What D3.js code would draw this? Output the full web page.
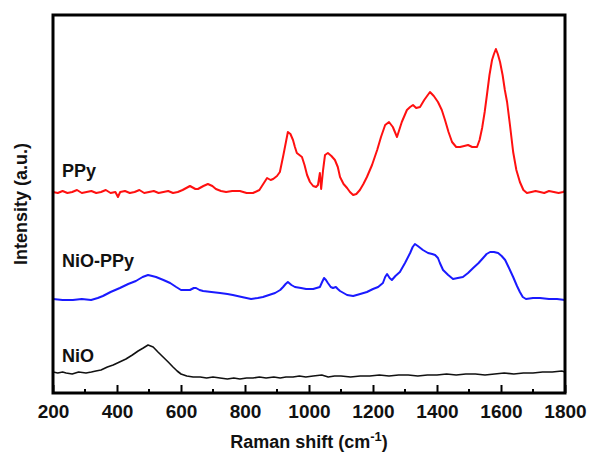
<!DOCTYPE html>
<html>
<head>
<meta charset="utf-8">
<script src="https://cdn.jsdelivr.net/npm/d3@7"></script>
<style>
  body { margin: 0; background: #fff; }
  svg { display: block; font-family: Arial, "Liberation Sans", sans-serif; }
</style>
</head>
<body>
<div id="chart"></div>
<script>
// Raman spectra, [shift (cm-1), intensity (a.u.)]
const ppy = [[200,201],[215,200],[230,202],[245,200],[260,201],[275,203],[290,200],[305,201],[320,202],[335,200],[350,201],[365,203],[380,200],[395,201],[403,196],[410,201],[425,202],[440,200],[455,201],[470,203],[485,200],[500,201],[515,202],[530,200],[545,201],[560,202],[575,200],[590,201],[605,203],[628,207],[645,204],[653,204],[670,207],[684,209],[698,207],[709,204],[725,202],[741,201],[760,202],[784,202],[805,200],[825,200],[845,203],[869,215],[880,213],[888,214],[900,217],[909,221],[920,238],[934,261],[942,259],[950,253],[956,246],[962,240],[970,238],[978,236],[986,228],[994,218],[1003,211],[1013,207],[1022,206],[1028,208],[1034,220],[1038,204],[1044,223],[1050,238],[1059,240],[1070,237],[1081,233],[1090,226],[1097,216],[1108,209],[1119,205],[1128,201],[1138,198],[1148,199],[1159,203],[1170,209],[1181,216],[1197,228],[1213,243],[1225,256],[1238,268],[1250,271],[1262,266],[1275,256],[1290,271],[1306,283],[1316,286],[1325,288],[1335,285],[1347,286],[1360,293],[1378,301],[1390,297],[1403,291],[1415,283],[1425,273],[1436,261],[1447,251],[1460,246],[1472,246],[1485,247],[1497,248],[1510,246],[1525,246],[1533,253],[1541,265],[1549,281],[1556,298],[1564,318],[1572,333],[1578,339],[1584,344],[1590,339],[1597,331],[1605,318],[1612,303],[1619,291],[1628,268],[1638,241],[1648,223],[1659,211],[1670,203],[1681,200],[1695,201],[1708,202],[1722,201],[1735,200],[1750,202],[1765,201],[1780,200],[1794,201],[1800,202]];

const nioPpy = [[200,94],[230,93],[262,93],[290,94],[319,93],[340,95],[356,97],[380,101],[409,105],[435,109],[459,112],[480,116],[497,118],[510,117],[522,116],[545,113],[566,110],[585,106],[600,103],[615,103],[628,103],[640,105],[647,105],[658,103],[669,102],[695,101],[722,100],[745,99],[762,98],[790,96],[819,94],[840,95],[856,96],[875,98],[894,100],[910,103],[919,106],[927,109],[934,111],[945,108],[956,106],[975,105],[991,104],[1013,104],[1034,106],[1041,111],[1047,115],[1053,113],[1059,110],[1068,106],[1075,105],[1084,106],[1090,104],[1097,102],[1108,100],[1119,98],[1138,97],[1160,99],[1181,101],[1200,104],[1216,106],[1231,110],[1238,116],[1244,119],[1252,115],[1259,113],[1270,117],[1284,121],[1300,130],[1316,140],[1324,146],[1331,149],[1340,147],[1356,143],[1372,140],[1385,139],[1394,138],[1403,135],[1409,130],[1419,123],[1435,118],[1450,114],[1465,115],[1481,116],[1497,120],[1513,125],[1530,130],[1544,135],[1555,139],[1566,141],[1578,141],[1591,140],[1602,137],[1613,133],[1625,125],[1638,116],[1650,107],[1659,101],[1668,96],[1678,94],[1700,95],[1722,95],[1750,94],[1775,94],[1800,93]];

const nio = [[200,21],[215,20],[230,21],[241,20],[260,19],[280,21],[303,20],[320,21],[334,22],[350,23],[370,26],[388,28],[408,31],[428,34],[448,38],[466,42],[482,45],[497,48],[505,47],[513,46],[528,41],[544,36],[560,31],[575,26],[588,22],[600,19],[618,17],[638,16],[660,16],[680,15],[700,16],[722,15],[745,14],[765,15],[784,14],[805,15],[825,15],[845,16],[866,15],[890,16],[910,15],[928,16],[950,16],[970,17],[990,16],[1013,17],[1040,18],[1060,16],[1080,17],[1100,17],[1130,16],[1160,17],[1190,17],[1220,18],[1250,17],[1280,18],[1310,18],[1340,17],[1370,18],[1400,18],[1430,19],[1460,18],[1490,19],[1520,19],[1550,18],[1580,19],[1610,20],[1640,19],[1670,20],[1700,20],[1730,21],[1760,21],[1790,22],[1800,21]];

const majorTicks = [200, 400, 600, 800, 1000, 1200, 1400, 1600, 1800];
const minorTicks = [300, 500, 700, 900, 1100, 1300, 1500, 1700];

const series = [
  { name: "PPy", data: ppy, color: "#ff1010", labelAt: [200, 216] },
  { name: "NiO-PPy", data: nioPpy, color: "#1a1aff", labelAt: [200, 126] },
  { name: "NiO", data: nio, color: "#111", labelAt: [200, 31] }
];

const width = 589, height = 458;
const margin = { top: 15, right: 24, bottom: 65, left: 53 };

const svg = d3.select("#chart").append("svg")
  .attr("width", width)
  .attr("height", height);

const x = d3.scaleLinear()
  .domain([200, 1800])
  .range([margin.left, width - margin.right]);

const y = d3.scaleLinear()
  .domain([0, 378])
  .range([height - margin.bottom, margin.top]);

const line = d3.line()
  .x(d => x(d[0]))
  .y(d => y(d[1]));

// Curves
series.forEach(s => {
  svg.append("path")
    .datum(s.data)
    .attr("fill", "none")
    .attr("stroke", s.color)
    .attr("stroke-width", s.name === "NiO" ? 1.6 : 2)
    .attr("stroke-linejoin", "round")
    .attr("d", line);

  svg.append("text")
    .attr("x", x(s.labelAt[0]) + 9)
    .attr("y", y(s.labelAt[1]))
    .attr("font-size", 18)
    .attr("font-weight", "bold")
    .attr("fill", "#111")
    .text(s.name);
});

// Bottom axis with inward ticks
const xAxis = svg.append("g")
  .attr("transform", `translate(0,${height - margin.bottom})`)
  .call(d3.axisBottom(x).tickValues(majorTicks).tickFormat(d3.format("d"))
    .tickSizeInner(-8).tickSizeOuter(0).tickPadding(12));

xAxis.select(".domain").remove();
xAxis.selectAll(".tick line").attr("stroke", "#000").attr("stroke-width", 2);
xAxis.selectAll(".tick text")
  .attr("font-size", 19)
  .attr("font-weight", "bold")
  .attr("font-family", "Arial, 'Liberation Sans', sans-serif")
  .attr("fill", "#111");

svg.append("g")
  .selectAll("line")
  .data(minorTicks)
  .join("line")
  .attr("x1", d => x(d))
  .attr("x2", d => x(d))
  .attr("y1", height - margin.bottom)
  .attr("y2", height - margin.bottom - 4)
  .attr("stroke", "#000")
  .attr("stroke-width", 2);

// Frame
svg.append("rect")
  .attr("x", margin.left)
  .attr("y", margin.top)
  .attr("width", width - margin.left - margin.right)
  .attr("height", height - margin.top - margin.bottom)
  .attr("fill", "none")
  .attr("stroke", "#000")
  .attr("stroke-width", 3);

// Axis titles
const xTitle = svg.append("text")
  .attr("x", (margin.left + width - margin.right) / 2)
  .attr("y", 448)
  .attr("text-anchor", "middle")
  .attr("font-size", 18)
  .attr("font-weight", "bold")
  .attr("fill", "#111");
xTitle.append("tspan").text("Raman shift (cm");
xTitle.append("tspan").attr("dy", -7).attr("font-size", 13).text("-1");
xTitle.append("tspan").attr("dy", 7).text(")");

svg.append("text")
  .attr("transform", `translate(27,${(margin.top + height - margin.bottom) / 2}) rotate(-90)`)
  .attr("text-anchor", "middle")
  .attr("font-size", 18)
  .attr("font-weight", "bold")
  .attr("fill", "#111")
  .text("Intensity (a.u.)");
</script>
</body>
</html>
